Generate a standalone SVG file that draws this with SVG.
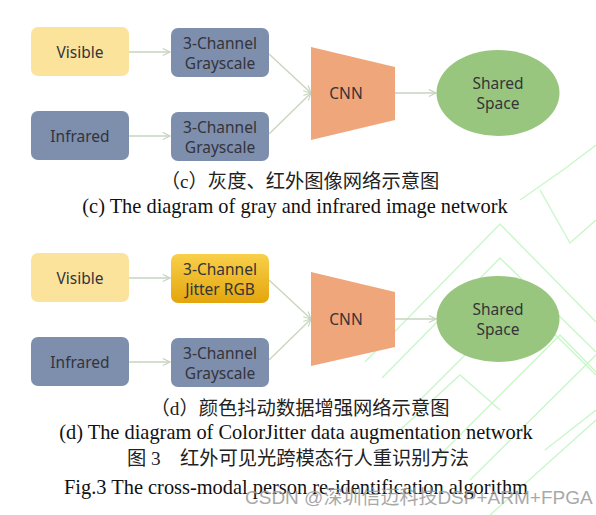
<svg xmlns="http://www.w3.org/2000/svg" width="596" height="515" viewBox="0 0 596 515">
<style>
.box{stroke:none}
.vis{fill:#FBE39C}
.gray{fill:#7E8EAD}
.cnn{fill:#F0A67B}
.ell{fill:#98C67E}
.lbl{font-family:"Noto Sans","Open Sans",sans-serif;font-size:15.5px;fill:#34343a;text-anchor:middle}
.conn{fill:none;stroke:#C7D5BF;stroke-width:1.3}
.cap{font-family:"Liberation Serif","Noto Sans CJK SC",serif;font-size:20.4px;fill:#111;text-anchor:middle}
.capzh{font-family:"Liberation Serif","Noto Sans CJK SC",serif;font-size:19.3px;fill:#222;text-anchor:middle}
.wm{fill:none;stroke:#C9F7C9;stroke-width:1.4}
.wmt{font-family:"Liberation Sans","Noto Sans CJK SC",sans-serif;font-size:19px;fill:#9a9a9a;opacity:0.85}
</style>
<defs>
<marker id="arr" viewBox="0 0 10 10" refX="9" refY="5" markerWidth="9" markerHeight="9" orient="auto" markerUnits="userSpaceOnUse">
<path d="M1,1 L9,5 L1,9" fill="none" stroke="#C7D5BF" stroke-width="1.3"/>
</marker>
<linearGradient id="jit" x1="0" y1="0" x2="0" y2="1">
<stop offset="0" stop-color="#F8D04A"/>
<stop offset="1" stop-color="#E4A50C"/>
</linearGradient>
</defs>
<rect width="596" height="515" fill="#ffffff"/>
<g id="watermark-lines">
<polyline class="wm" points="365,362 500,224 596,322"/>
<polyline class="wm" points="382,378 500,258 596,352"/>
<polyline class="wm" points="420,400 520,300 596,375"/>
<polyline class="wm" points="440,455 560,335 596,372"/>
<polyline class="wm" points="470,480 596,355"/>
<polyline class="wm" points="520,200 563,170 596,145"/>
<polyline class="wm" points="540,190 570,243 596,220"/>
<polyline class="wm" points="490,515 596,420"/>
<polyline class="wm" points="545,450 596,410"/>
<polyline class="wm" points="400,430 460,375 500,410"/>
</g>
<g id="connectors">
<line class="conn" x1="129" y1="52" x2="170" y2="52" marker-end="url(#arr)"/>
<line class="conn" x1="129" y1="136" x2="170" y2="136" marker-end="url(#arr)"/>
<line class="conn" x1="269" y1="54" x2="311" y2="93" marker-end="url(#arr)"/>
<line class="conn" x1="269" y1="134" x2="311" y2="93" marker-end="url(#arr)"/>
<line class="conn" x1="395" y1="93" x2="436" y2="93" marker-end="url(#arr)"/>
<line class="conn" x1="129" y1="278" x2="170" y2="278" marker-end="url(#arr)"/>
<line class="conn" x1="129" y1="362" x2="170" y2="362" marker-end="url(#arr)"/>
<line class="conn" x1="269" y1="280" x2="311" y2="319" marker-end="url(#arr)"/>
<line class="conn" x1="269" y1="360" x2="311" y2="319" marker-end="url(#arr)"/>
<line class="conn" x1="395" y1="319" x2="436" y2="319" marker-end="url(#arr)"/>
</g>
<g id="c-visible"><rect class="box vis" x="31" y="27" width="98" height="49" rx="7"/><text class="lbl" x="80" y="57.5">Visible</text></g>
<g id="c-infrared"><rect class="box gray" x="31" y="111" width="98" height="49" rx="7"/><text class="lbl" x="80" y="141.5">Infrared</text></g>
<g id="c-gray1"><rect class="box gray" x="171" y="28" width="98" height="49" rx="7"/><text class="lbl" x="220" y="48.5">3-Channel</text><text class="lbl" x="220" y="68.5">Grayscale</text></g>
<g id="c-gray2"><rect class="box gray" x="171" y="112" width="98" height="49" rx="7"/><text class="lbl" x="220" y="132.5">3-Channel</text><text class="lbl" x="220" y="152.5">Grayscale</text></g>
<g id="c-cnn"><polygon class="cnn" points="311,47 395,67 395,120 311,140"/><text class="lbl" x="346" y="99">CNN</text></g>
<g id="c-shared"><ellipse class="ell" cx="498" cy="93" rx="61.5" ry="43"/><text class="lbl" x="498" y="89">Shared</text><text class="lbl" x="498" y="109">Space</text></g>
<g id="d-visible"><rect class="box vis" x="31" y="253" width="98" height="49" rx="7"/><text class="lbl" x="80" y="283.5">Visible</text></g>
<g id="d-infrared"><rect class="box gray" x="31" y="337" width="98" height="49" rx="7"/><text class="lbl" x="80" y="367.5">Infrared</text></g>
<g id="d-jitter"><rect class="box" fill="url(#jit)" x="171" y="254" width="98" height="49" rx="7"/><text class="lbl" x="220" y="274.5">3-Channel</text><text class="lbl" x="220" y="294.5">Jitter RGB</text></g>
<g id="d-gray2"><rect class="box gray" x="171" y="338" width="98" height="49" rx="7"/><text class="lbl" x="220" y="358.5">3-Channel</text><text class="lbl" x="220" y="378.5">Grayscale</text></g>
<g id="d-cnn"><polygon class="cnn" points="311,272 395,292 395,347 311,366"/><text class="lbl" x="346" y="325">CNN</text></g>
<g id="d-shared"><ellipse class="ell" cx="498" cy="319" rx="61.5" ry="43"/><text class="lbl" x="498" y="315">Shared</text><text class="lbl" x="498" y="335">Space</text></g>
<g id="captions">
<text class="capzh" x="300" y="188">（c）灰度、红外图像网络示意图</text>
<text class="cap" x="295" y="213">(c) The diagram of gray and infrared image network</text>
<text class="capzh" x="300" y="415">（d）颜色抖动数据增强网络示意图</text>
<text class="cap" x="296" y="439">(d) The diagram of ColorJitter data augmentation network</text>
<text class="capzh" x="298" y="465" xml:space="preserve">图 3　红外可见光跨模态行人重识别方法</text>
<text class="cap" x="296" y="494">Fig.3 The cross-modal person re-identification algorithm</text>
</g>
<text class="wmt" x="245" y="504">CSDN @深圳信迈科技DSP+ARM+FPGA</text>
</svg>
